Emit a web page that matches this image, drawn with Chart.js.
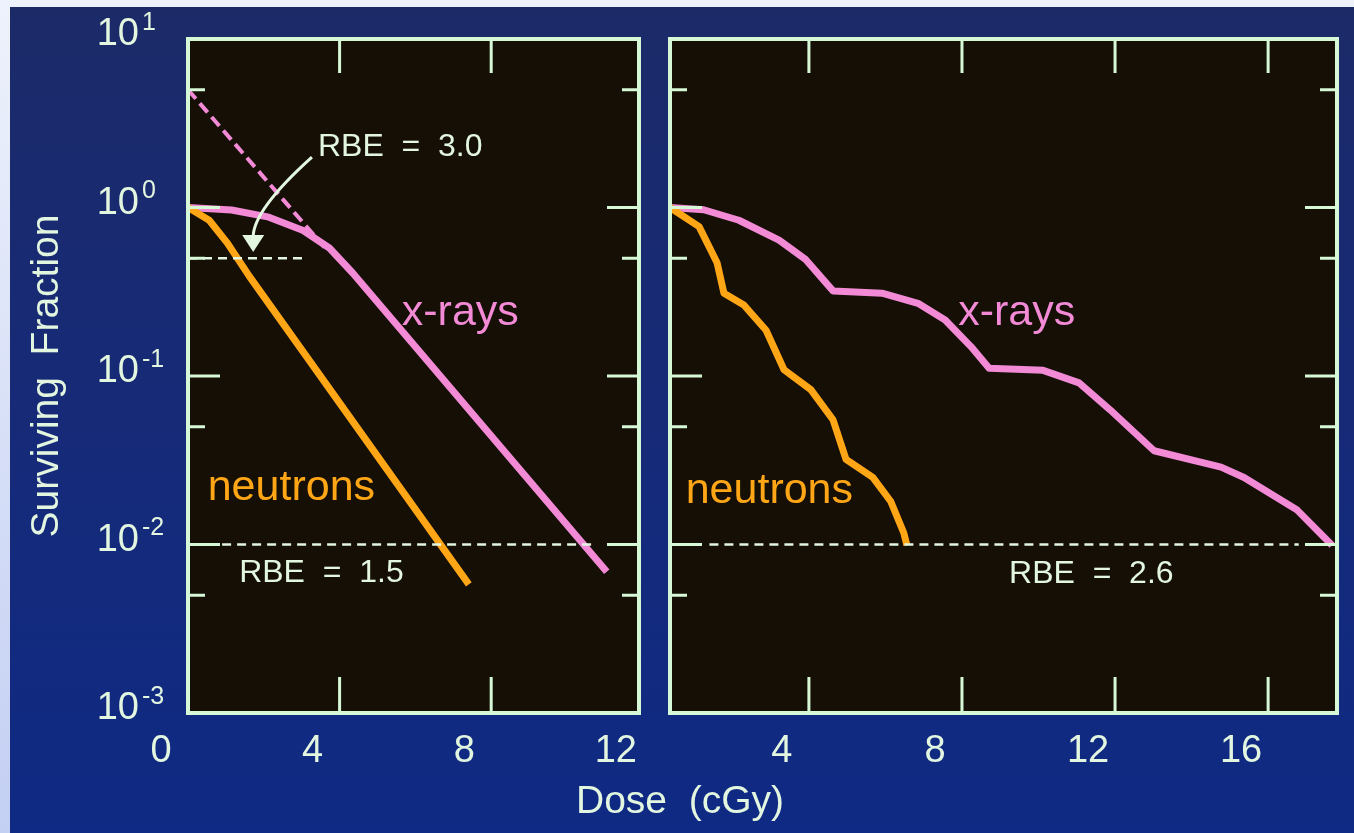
<!DOCTYPE html>
<html>
<head>
<meta charset="utf-8">
<script src="https://cdn.jsdelivr.net/npm/chart.js@4.4.1/dist/chart.umd.min.js"></script>
<style>
  html, body { margin: 0; padding: 0; }
  body {
    width: 1354px; height: 833px; overflow: hidden; position: relative;
    background: linear-gradient(to bottom, #eef2fc, #c3cff3);
    font-family: "Liberation Sans", Arial, Helvetica, sans-serif;
  }
  #slide {
    position: absolute; left: 10px; top: 7px; width: 1344px; height: 826px;
    background: linear-gradient(to bottom, #1c2a68 0%, #162a78 50%, #0f2a84 100%);
  }
  .panel { position: absolute; top: 0; height: 833px; }
  #leftBox { left: 0; width: 680px; }
  #rightBox { left: 660px; width: 694px; }
  #doseTitle {
    position: absolute; left: 576px; top: 781px; line-height: 38px;
    color: #e2f6e0; font-size: 39px; white-space: pre;
  }
</style>
</head>
<body>
<div id="slide"></div>
<div class="panel" id="leftBox"><canvas id="leftChart"></canvas></div>
<div class="panel" id="rightBox"><canvas id="rightChart"></canvas></div>
<div id="doseTitle">Dose  (cGy)</div>

<script>
// ---- data ----
// left panel: single doses
const leftXrayDose = [0, 1.15, 2.1, 3.04, 3.73, 4.34, 11.05];
const leftXraySF = [1.0, 0.966, 0.88, 0.73, 0.575, 0.41, 0.0069];
const leftNeutronDose = [0, 0.56, 1.04, 1.62, 7.41];
const leftNeutronSF = [1.0, 0.84, 0.615, 0.39, 0.0058];
const extrapDose = [0, 3.6];
const extrapSF = [5.0, 0.58];
const halfLineDose = [0, 3.05];
const halfLineSF = [0.5, 0.5];
const leftPctDose = [0.9, 10.7];
const leftPctSF = [0.01, 0.01];

// right panel: fractionated doses
const rightXrayDose = [0.37, 1.25, 2.17, 3.22, 3.92, 4.63, 5.91, 6.85, 7.56, 8.24, 8.71,
  10.12, 11.06, 11.87, 13.02, 14.77, 15.37, 16.76, 17.67];
const rightXraySF = [1.0, 0.97, 0.84, 0.64, 0.49, 0.32, 0.31, 0.27, 0.215, 0.149, 0.111,
  0.108, 0.091, 0.063, 0.036, 0.0288, 0.025, 0.016, 0.0099];
const rightNeutronDose = [0.37, 1.13, 1.6, 1.78, 2.3, 2.88, 3.35, 4.05, 4.63, 4.97, 5.67,
  6.14, 6.48, 6.56];
const rightNeutronSF = [1.0, 0.77, 0.47, 0.31, 0.264, 0.187, 0.109, 0.083, 0.055, 0.032,
  0.025, 0.018, 0.0117, 0.0099];
const rightPctDose = [1.4, 16.8];
const rightPctSF = [0.01, 0.01];

// ticks
const yTicks = [10, 1, 0.1, 0.01, 0.001];
const yMajorInner = [1, 0.1, 0.01];
const yMinorInner = [5, 0.5, 0.05, 0.005];
const leftXTicks = [0, 4, 8, 12];
const leftXMarks = [4, 8];
const rightXTicks = [4, 8, 12, 16];

// ---- styles ----
const FONT = '"Liberation Sans", Arial, Helvetica, sans-serif';
const textColor = '#e2f6e0';
const frameColor = '#d6f8d6';
const panelFill = '#150f06';
const pink = '#f28ad6';
const orange = '#ffa616';

function pts(xs, ys) {
  return xs.map((x, i) => ({ x: x, y: ys[i] }));
}

function curve(xs, ys, color) {
  return {
    data: pts(xs, ys), borderColor: color, borderWidth: 7, pointRadius: 0,
    tension: 0, fill: false, borderJoinStyle: 'round', borderCapStyle: 'butt'
  };
}

function dashed(xs, ys, color, width, dash) {
  return {
    data: pts(xs, ys), borderColor: color, borderWidth: width, pointRadius: 0,
    tension: 0, fill: false, borderDash: dash
  };
}

// frame, inward ticks, annotations
const framePlugin = {
  id: 'frame',
  beforeDraw(chart) {
    const { ctx, chartArea: a } = chart;
    ctx.save();
    ctx.fillStyle = panelFill;
    ctx.fillRect(a.left, a.top, a.right - a.left, a.bottom - a.top);
    ctx.restore();
  },
  afterDatasetsDraw(chart, args, opts) {
    const { ctx, chartArea: a } = chart;
    const x = chart.scales.x, y = chart.scales.y;
    ctx.save();

    // inward tick marks
    ctx.strokeStyle = frameColor;
    ctx.lineWidth = 3;
    ctx.beginPath();
    opts.xMarks.forEach(v => {
      const px = x.getPixelForValue(v);
      ctx.moveTo(px, a.top); ctx.lineTo(px, a.top + 34);
      ctx.moveTo(px, a.bottom); ctx.lineTo(px, a.bottom - 36);
    });
    yMajorInner.forEach(v => {
      const py = y.getPixelForValue(v);
      ctx.moveTo(a.left, py); ctx.lineTo(a.left + 32, py);
      ctx.moveTo(a.right, py); ctx.lineTo(a.right - 32, py);
    });
    yMinorInner.forEach(v => {
      const py = y.getPixelForValue(v);
      ctx.moveTo(a.left, py); ctx.lineTo(a.left + 17, py);
      ctx.moveTo(a.right, py); ctx.lineTo(a.right - 17, py);
    });
    ctx.stroke();

    // box
    ctx.lineWidth = 4;
    ctx.strokeRect(a.left, a.top, a.right - a.left, a.bottom - a.top);

    // curve names and RBE notes
    ctx.textBaseline = 'middle';
    ctx.textAlign = 'left';
    opts.notes.forEach(n => {
      ctx.font = n.size + 'px ' + FONT;
      ctx.fillStyle = n.color;
      ctx.fillText(n.text, x.getPixelForValue(n.x), y.getPixelForValue(n.y));
    });

    // curved arrow
    if (opts.arrow) {
      const ar = opts.arrow;
      const p0 = [x.getPixelForValue(ar.from[0]), y.getPixelForValue(ar.from[1])];
      const p1 = [x.getPixelForValue(ar.bend[0]), y.getPixelForValue(ar.bend[1])];
      const p2 = [x.getPixelForValue(ar.base[0]), y.getPixelForValue(ar.base[1])];
      const tip = [x.getPixelForValue(ar.tip[0]), y.getPixelForValue(ar.tip[1])];
      ctx.strokeStyle = textColor;
      ctx.fillStyle = textColor;
      ctx.lineWidth = 3;
      ctx.beginPath();
      ctx.moveTo(p0[0], p0[1]);
      ctx.quadraticCurveTo(p1[0], p1[1], p2[0], p2[1] + 2);
      ctx.stroke();
      ctx.beginPath();
      ctx.moveTo(tip[0], tip[1]);
      ctx.lineTo(p2[0] - 11, p2[1]);
      ctx.lineTo(p2[0] + 11, p2[1]);
      ctx.closePath();
      ctx.fill();
    }

    // y tick labels as powers of ten
    if (opts.yLabels) {
      ctx.fillStyle = textColor;
      y.ticks.forEach(t => {
        const py = y.getPixelForValue(t.value) - 4;
        const exp = Math.round(Math.log10(t.value));
        ctx.font = '38px ' + FONT;
        ctx.textAlign = 'right';
        ctx.fillText('10', 139, py);
        ctx.font = '25px ' + FONT;
        ctx.textAlign = 'left';
        ctx.fillText(String(exp), 142, py - 12);
      });
    }
    ctx.restore();
  }
};

function makePanel(id, p) {
  return new Chart(document.getElementById(id), {
    type: 'line',
    data: { datasets: p.datasets },
    options: {
      responsive: true,
      maintainAspectRatio: false,
      animation: false,
      layout: { padding: p.padding },
      plugins: {
        legend: { display: false },
        tooltip: { enabled: false },
        frame: p.frame
      },
      scales: {
        x: {
          type: 'linear', min: p.xMin, max: p.xMax,
          afterBuildTicks: s => { s.ticks = p.xTicks.map(v => ({ value: v })); },
          afterFit: s => { s.height = 120; },
          grid: { display: false, drawTicks: false },
          border: { display: false },
          ticks: {
            color: textColor, font: { family: FONT, size: 38 }, padding: 16,
            labelOffset: -27, maxRotation: 0, autoSkip: false,
            callback: v => String(v)
          }
        },
        y: {
          type: 'logarithmic', min: 0.001, max: 10, display: p.showY,
          afterBuildTicks: s => { s.ticks = yTicks.map(v => ({ value: v })); },
          afterFit: s => { if (p.showY) s.width = 188; },
          grid: { display: false, drawTicks: false },
          border: { display: false },
          ticks: { display: false },
          title: {
            display: true, text: 'Surviving  Fraction', color: textColor,
            font: { family: FONT, size: 39 }, padding: { top: 24, bottom: 0 }
          }
        }
      }
    },
    plugins: [framePlugin]
  });
}

makePanel('leftChart', {
  xMin: 0, xMax: 11.9, xTicks: leftXTicks, showY: true,
  padding: { top: 39, right: 41, bottom: 0, left: 0 },
  datasets: [
    dashed(leftPctDose, leftPctSF, textColor, 2.5, [9, 6]),
    dashed(halfLineDose, halfLineSF, textColor, 2.5, [9, 6]),
    dashed(extrapDose, extrapSF, pink, 4, [12, 6]),
    curve(leftNeutronDose, leftNeutronSF, orange),
    curve(leftXrayDose, leftXraySF, pink)
  ],
  frame: {
    xMarks: leftXMarks,
    yLabels: true,
    notes: [
      { text: 'x-rays', x: 5.64, y: 0.237, size: 43, color: pink },
      { text: 'neutrons', x: 0.52, y: 0.0216, size: 43, color: orange },
      { text: 'RBE  =  1.5', x: 1.35, y: 0.0068, size: 32, color: textColor },
      { text: 'RBE  =  3.0', x: 3.43, y: 2.29, size: 32, color: textColor }
    ],
    arrow: { from: [3.27, 1.99], bend: [1.72, 0.966], base: [1.72, 0.687], tip: [1.72, 0.545] }
  }
});

makePanel('rightChart', {
  xMin: 0.37, xMax: 17.8, xTicks: rightXTicks, showY: false,
  padding: { top: 39, right: 17, bottom: 0, left: 10 },
  datasets: [
    dashed(rightPctDose, rightPctSF, textColor, 2.5, [9, 6]),
    curve(rightNeutronDose, rightNeutronSF, orange),
    curve(rightXrayDose, rightXraySF, pink)
  ],
  frame: {
    xMarks: rightXTicks,
    yLabels: false,
    notes: [
      { text: 'x-rays', x: 7.9, y: 0.237, size: 43, color: pink },
      { text: 'neutrons', x: 0.78, y: 0.0207, size: 43, color: orange },
      { text: 'RBE  =  2.6', x: 9.23, y: 0.00668, size: 32, color: textColor }
    ],
    arrow: null
  }
});
</script>
</body>
</html>
